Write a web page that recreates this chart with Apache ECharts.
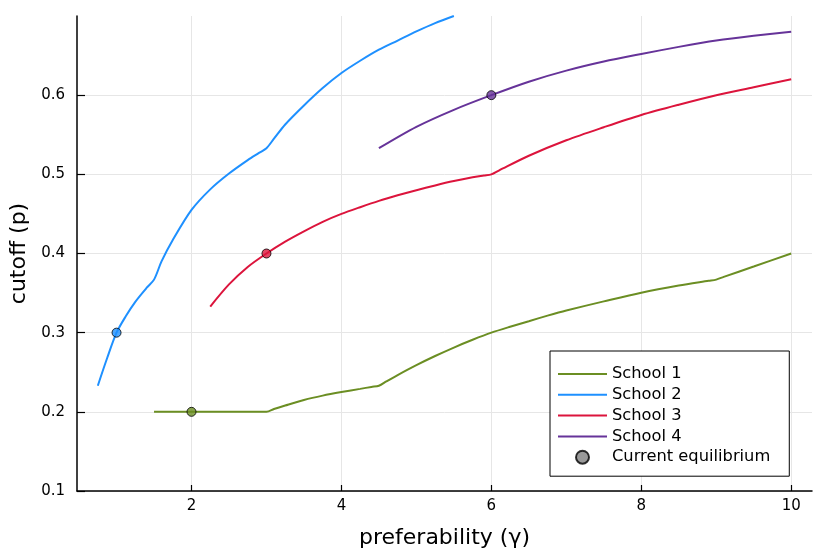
<!DOCTYPE html>
<html>
<head>
<meta charset="utf-8">
<script src="https://cdn.jsdelivr.net/npm/echarts@6/dist/echarts.min.js"></script>
<style>
  html, body { margin: 0; padding: 0; background: #fff; }
  #chart { width: 830px; height: 554px; }
</style>
</head>
<body>
<div id="chart"></div>
<script>
// values
var school1X = [1.5, 2, 2.5, 2.9, 3, 3.1, 3.25, 3.5, 3.75, 4, 4.25, 4.4, 4.5, 4.6, 4.75, 5, 5.25, 5.5, 5.75, 6, 6.25, 6.5, 6.75, 7, 7.5, 8, 8.5, 8.9, 9, 9.1, 9.5, 10];
var school1Y = [0.2, 0.2, 0.2, 0.2, 0.2, 0.2035, 0.208, 0.215, 0.2205, 0.225, 0.229, 0.2315, 0.233, 0.2385, 0.2465, 0.259, 0.2705, 0.2812, 0.291, 0.3, 0.3075, 0.3145, 0.3215, 0.328, 0.3395, 0.3505, 0.3595, 0.3655, 0.367, 0.3705, 0.3835, 0.4];

var school2X = [0.75, 0.875, 1, 1.125, 1.25, 1.4, 1.5, 1.6, 1.75, 2, 2.25, 2.5, 2.75, 2.9, 3, 3.1, 3.25, 3.5, 3.75, 4, 4.25, 4.5, 4.75, 5, 5.25, 5.5];
var school2Y = [0.233, 0.268, 0.3, 0.321, 0.339, 0.3565, 0.367, 0.39, 0.417, 0.455, 0.481, 0.501, 0.518, 0.527, 0.533, 0.545, 0.563, 0.587, 0.609, 0.628, 0.6435, 0.6575, 0.669, 0.6805, 0.691, 0.7];

var school3X = [2.25, 2.5, 2.75, 3, 3.25, 3.5, 3.75, 4, 4.25, 4.5, 4.75, 5, 5.25, 5.5, 5.75, 5.9, 6, 6.1, 6.5, 7, 7.5, 8, 8.5, 9, 9.5, 10];
var school3Y = [0.333, 0.361, 0.383, 0.4, 0.415, 0.428, 0.44, 0.45, 0.4585, 0.4665, 0.4735, 0.48, 0.486, 0.4915, 0.4962, 0.4985, 0.5, 0.5048, 0.5235, 0.543, 0.5595, 0.575, 0.588, 0.6, 0.61, 0.62];

var school4X = [4.5, 5, 5.5, 6, 6.5, 7, 7.5, 8, 8.5, 9, 9.5, 10];
var school4Y = [0.533, 0.56, 0.5815, 0.6, 0.617, 0.631, 0.6425, 0.652, 0.661, 0.669, 0.675, 0.68];

var eqX = [2, 1, 3, 6];
var eqY = [0.2, 0.3, 0.4, 0.6];

var schoolNames = ["School 1", "School 2", "School 3", "School 4"];
var schoolColors = ["#6b8e23", "#1e90ff", "#dc143c", "#663399"];

var xTicks = [2, 4, 6, 8, 10];
var yTicks = [0.1, 0.2, 0.3, 0.4, 0.5, 0.6];

var FONT = "DejaVu Sans";

function pairs(xs, ys) {
  return xs.map(function (x, i) { return [x, ys[i]]; });
}

var schoolData = [
  pairs(school1X, school1Y),
  pairs(school2X, school2Y),
  pairs(school3X, school3Y),
  pairs(school4X, school4Y)
];

var series = schoolData.map(function (d, i) {
  return {
    name: schoolNames[i],
    type: "line",
    data: d,
    symbol: "none",
    showSymbol: false,
    smooth: 0.3,
    lineStyle: { color: schoolColors[i], width: 2 },
    itemStyle: { color: schoolColors[i] },
    z: 2
  };
});

series.push({
  name: "Current equilibrium",
  type: "scatter",
  symbol: "circle",
  symbolSize: 9,
  itemStyle: { color: "#808080", borderColor: "#000", borderWidth: 1 },
  data: eqX.map(function (x, i) {
    return { value: [x, eqY[i]], itemStyle: { color: schoolColors[i], borderColor: "#000", borderWidth: 1 } };
  }),
  z: 5
});

// legend lines drawn as a thin bar, the marker as a circle
var lineIcon = "path://M0,0H49V2H0Z";
var legendData = schoolNames.map(function (n) {
  return { name: n, icon: lineIcon };
});
legendData.push({ name: "Current equilibrium", icon: "circle" });

var myChart = echarts.init(document.getElementById("chart"));
myChart.setOption({
  animation: false,
  backgroundColor: "#fff",
  grid: { left: 75, right: 18, top: 16, bottom: 62 },
  xAxis: {
    type: "value",
    min: 0.4725,
    max: 10.2775,
    name: "preferability (γ)",
    nameLocation: "middle",
    nameGap: 36,
    nameTextStyle: { fontFamily: FONT, fontSize: 22, color: "#000" },
    axisLine: { show: true, lineStyle: { color: "#000", width: 1.5 } },
    axisTick: { show: true, inside: true, length: 6, customValues: xTicks, lineStyle: { color: "#000", width: 1.2 } },
    axisLabel: { customValues: xTicks, fontFamily: FONT, fontSize: 15, color: "#000", margin: 8 },
    splitLine: { show: true, lineStyle: { color: "#e6e6e6", width: 1 } }
  },
  yAxis: {
    type: "value",
    min: 0.1,
    max: 0.7,
    name: "cutoff (p)",
    nameLocation: "middle",
    nameGap: 47,
    nameTextStyle: { fontFamily: FONT, fontSize: 22, color: "#000" },
    axisLine: { show: true, lineStyle: { color: "#000", width: 1.5 } },
    axisTick: { show: true, inside: true, length: 8, customValues: yTicks, lineStyle: { color: "#000", width: 1.2 } },
    axisLabel: {
      customValues: yTicks,
      fontFamily: FONT, fontSize: 15, color: "#000", margin: 12,
      formatter: function (v) { return v.toFixed(1); }
    },
    splitLine: { show: true, lineStyle: { color: "#e6e6e6", width: 1 } }
  },
  legend: {
    orient: "vertical",
    left: 550,
    top: 351,
    padding: [15, 19, 11, 8],
    itemWidth: 49,
    itemHeight: 13,
    itemGap: 4.8,
    borderColor: "#000",
    borderWidth: 1,
    backgroundColor: "#fff",
    textStyle: { fontFamily: FONT, fontSize: 16.3, color: "#000" },
    data: legendData
  },
  series: series
});

window.addEventListener("resize", function () {
  myChart && myChart.resize();
});
</script>
</body>
</html>
